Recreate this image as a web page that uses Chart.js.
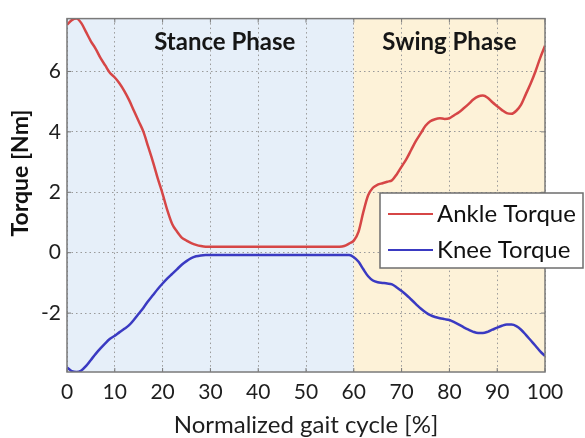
<!DOCTYPE html>
<html>
<head>
<meta charset="utf-8">
<script src="https://cdn.jsdelivr.net/npm/chart.js@4.4.1/dist/chart.umd.min.js"></script>
<style>
  html, body { margin: 0; padding: 0; background: #fff; }
  #wrap { width: 585px; height: 438px; }
</style>
</head>
<body>
<div id="wrap"><canvas id="gait-chart" width="585" height="438"></canvas></div>
<script>
// --- values ---
const gaitCycle = [
  0, 1, 2, 3, 4, 5, 6, 7, 8, 9, 10, 11, 12, 13, 14, 15, 16, 17, 18, 19, 20,
  21, 22, 23, 24, 25, 26, 27, 28, 29, 30, 35, 40, 45, 50, 55, 57, 58, 59,
  60, 61, 62, 63, 64, 65, 66, 67, 68, 69, 70, 71, 72, 73, 74, 75, 76, 77, 78, 79, 80,
  81, 82, 83, 84, 85, 86, 87, 88, 89, 90, 91, 92, 93, 94, 95, 96, 97, 98, 99, 100
];
const ankleTorque = [
  7.55, 7.7, 7.75, 7.6, 7.3, 7.0, 6.75, 6.45, 6.2, 5.95, 5.8, 5.6, 5.35, 5.05, 4.7, 4.35, 4.0, 3.5, 3.0, 2.45, 1.95,
  1.4, 0.95, 0.7, 0.5, 0.4, 0.32, 0.26, 0.22, 0.2, 0.2, 0.2, 0.2, 0.2, 0.2, 0.2, 0.2, 0.22, 0.3,
  0.4, 0.7, 1.35, 1.9, 2.15, 2.25, 2.3, 2.35, 2.4, 2.6, 2.85, 3.1, 3.4, 3.7, 3.95, 4.2, 4.35, 4.42, 4.45, 4.43, 4.45,
  4.55, 4.65, 4.78, 4.92, 5.07, 5.17, 5.2, 5.13, 4.98, 4.85, 4.72, 4.62, 4.6, 4.7, 4.9, 5.25, 5.6, 6.0, 6.45, 6.85
];
const kneeTorque = [
  -3.8, -3.92, -3.95, -3.9, -3.75, -3.55, -3.35, -3.17, -3.0, -2.85, -2.75, -2.63, -2.52, -2.4, -2.22, -2.02, -1.82, -1.6, -1.4, -1.2, -1.02,
  -0.85, -0.7, -0.55, -0.4, -0.28, -0.18, -0.12, -0.09, -0.08, -0.08, -0.08, -0.08, -0.08, -0.08, -0.08, -0.08, -0.08, -0.08,
  -0.15, -0.3, -0.55, -0.78, -0.92, -0.98, -1.0, -1.02, -1.05, -1.15, -1.27, -1.4, -1.55, -1.7, -1.85, -1.97, -2.07, -2.13, -2.17, -2.2, -2.23,
  -2.3, -2.38, -2.47, -2.55, -2.62, -2.66, -2.66, -2.62, -2.55, -2.48, -2.42, -2.38, -2.38, -2.43, -2.55, -2.72, -2.9, -3.08, -3.27, -3.42
];
const seriesNames = ['Ankle Torque', 'Knee Torque'];
const xTicks = [0, 10, 20, 30, 40, 50, 60, 70, 80, 90, 100];
const yTicks = [-2, 0, 2, 4, 6];
const phaseNames  = ['Stance Phase', 'Swing Phase'];
const phaseBounds = [0, 60, 100];

const FONT = 'Lato, "Noto Sans", sans-serif';

// 位相の背景色 (グリッドより下に塗る)
const phasePlugin = {
  id: 'phases',
  beforeDraw(chart, args, opts) {
    const { ctx, chartArea: a, scales: { x } } = chart;
    ctx.save();
    for (let i = 0; i < phaseNames.length; i++) {
      const x0 = x.getPixelForValue(phaseBounds[i]);
      const x1 = x.getPixelForValue(phaseBounds[i + 1]);
      ctx.fillStyle = opts.colors[i];
      ctx.fillRect(x0, a.top, x1 - x0, a.bottom - a.top);
    }
    ctx.restore();
  },
  afterDraw(chart, args, opts) {
    const { ctx, chartArea: a, scales: { x } } = chart;
    ctx.save();
    ctx.font = `bold ${opts.fontSize}px ${FONT}`;
    ctx.fillStyle = '#161616';
    ctx.textAlign = 'center';
    ctx.textBaseline = 'middle';
    phaseNames.forEach((name, i) => {
      ctx.fillText(name, x.getPixelForValue(opts.labelAt[i]), a.top + opts.labelOffset);
    });
    ctx.restore();
  }
};

// 枠線・内向きの目盛り・Y軸タイトル・凡例
const framePlugin = {
  id: 'frame',
  afterDatasetsDraw(chart) {
    const { ctx, chartArea: a, scales: { x, y } } = chart;
    ctx.save();
    ctx.strokeStyle = '#7a7a7a';
    ctx.lineWidth = 1.5;
    ctx.strokeRect(a.left, a.top, a.right - a.left, a.bottom - a.top);
    ctx.lineWidth = 1;
    ctx.beginPath();
    xTicks.forEach(v => {
      const px = x.getPixelForValue(v);
      ctx.moveTo(px, a.bottom); ctx.lineTo(px, a.bottom - 4);
      ctx.moveTo(px, a.top);    ctx.lineTo(px, a.top + 4);
    });
    yTicks.forEach(v => {
      const py = y.getPixelForValue(v);
      ctx.moveTo(a.left, py);  ctx.lineTo(a.left + 4, py);
      ctx.moveTo(a.right, py); ctx.lineTo(a.right - 4, py);
    });
    ctx.stroke();
    ctx.restore();
  },
  afterDraw(chart, args, opts) {
    const { ctx } = chart;
    ctx.save();
    // Y軸タイトル
    ctx.translate(opts.yTitle.x, opts.yTitle.y);
    ctx.rotate(-Math.PI / 2);
    ctx.font = `bold 23px ${FONT}`;
    ctx.fillStyle = '#111';
    ctx.textAlign = 'center';
    ctx.textBaseline = 'middle';
    ctx.fillText(opts.yTitle.text, 0, 0);
    ctx.restore();

    // 凡例
    const L = opts.legend;
    ctx.save();
    ctx.fillStyle = '#fff';
    ctx.fillRect(L.x, L.y, L.w, L.h);
    ctx.strokeStyle = '#6e6e6e';
    ctx.lineWidth = 1.5;
    ctx.strokeRect(L.x, L.y, L.w, L.h);
    ctx.font = `24px ${FONT}`;
    ctx.textBaseline = 'middle';
    chart.data.datasets.forEach((ds, i) => {
      const cy = L.y + L.firstRow + i * L.rowGap;
      ctx.strokeStyle = ds.borderColor;
      ctx.lineWidth = 2;
      ctx.beginPath();
      ctx.moveTo(L.x + 8, cy); ctx.lineTo(L.x + 53, cy);
      ctx.stroke();
      ctx.fillStyle = '#111';
      ctx.fillText(ds.label, L.x + 57, cy);
    });
    ctx.restore();
  }
};

new Chart(document.getElementById('gait-chart'), {
  type: 'line',
  data: {
    datasets: [
      {
        label: seriesNames[0],
        data: gaitCycle.map((g, i) => ({ x: g, y: ankleTorque[i] })),
        borderColor: '#d64646',
        borderWidth: 2.5,
        pointRadius: 0,
        cubicInterpolationMode: 'monotone',
        fill: false
      },
      {
        label: seriesNames[1],
        data: gaitCycle.map((g, i) => ({ x: g, y: kneeTorque[i] })),
        borderColor: '#3a3ac2',
        borderWidth: 2.5,
        pointRadius: 0,
        cubicInterpolationMode: 'monotone',
        fill: false
      }
    ]
  },
  options: {
    responsive: false,
    animation: false,
    devicePixelRatio: 1,
    layout: { padding: { left: 0, right: 40, top: 9, bottom: 0 } },
    plugins: {
      legend: { display: false },
      tooltip: { enabled: false },
      phases: {
        colors: ['#e6eff9', '#fdf2d8'],
        labelAt: [33, 80],
        labelOffset: 24,
        fontSize: 24
      },
      frame: {
        yTitle: { text: 'Torque [Nm]', x: 21, y: 173 },
        legend: { x: 380, y: 193, w: 203, h: 75, firstRow: 21, rowGap: 36 }
      }
    },
    scales: {
      x: {
        type: 'linear',
        min: 0, max: 100,
        afterBuildTicks: s => { s.ticks = xTicks.map(v => ({ value: v })); },
        afterFit: s => { s.height = 66; },
        grid: { color: '#9a9a9a', lineWidth: 1, drawTicks: false },
        border: { display: false, dash: [1.5, 3] },
        ticks: { padding: 8, color: '#1e1e1e', font: { family: FONT, size: 21 } },
        title: {
          display: true, text: 'Normalized gait cycle [%]', color: '#1e1e1e',
          font: { family: FONT, size: 24 }, padding: { top: 0, bottom: -2 }
        }
      },
      y: {
        type: 'linear',
        min: -3.95, max: 7.75,
        afterBuildTicks: s => { s.ticks = yTicks.map(v => ({ value: v })); },
        afterFit: s => { s.width = 67; },
        grid: { color: '#9a9a9a', lineWidth: 1, drawTicks: false },
        border: { display: false, dash: [1.5, 3] },
        ticks: { padding: 6, color: '#1e1e1e', font: { family: FONT, size: 21 } }
      }
    }
  },
  plugins: [phasePlugin, framePlugin]
});
</script>
</body>
</html>
